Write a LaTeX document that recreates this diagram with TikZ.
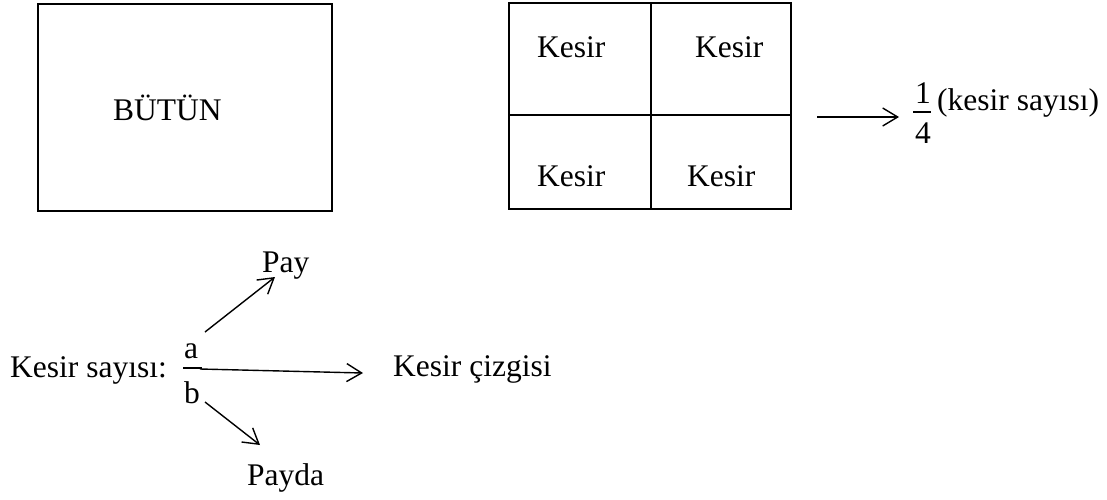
\documentclass[tikz,border=0pt]{standalone}
\usepackage{fontspec}
\setmainfont{Liberation Serif}
\usetikzlibrary{arrows.meta}
\begin{document}
\begin{tikzpicture}[x=1pt,y=-1pt,
  txt/.style={inner sep=0pt, anchor=base west, font=\fontsize{31.5}{37}\selectfont},
  box/.style={line width=1.8pt},
  fbar/.style={line width=1.3pt},
  arr/.style={line width=1.4pt, -{Straight Barb[length=15pt,width=18pt,line width=1.4pt]}}]
\useasboundingbox (0,0) rectangle (1107,499);
% whole
\draw[box] (38,4) rectangle (332,211);
\node[txt] (butun) at (113,120) {BÜTÜN};
% grid of quarters
\draw[box] (509,3) rectangle (791,209);
\draw[box] (651,3) -- (651,209);
\draw[box] (509,115) -- (791,115);
\node[txt] (k1) at (537,57) {Kesir};
\node[txt] (k2) at (695,57) {Kesir};
\node[txt] (k3) at (537,186) {Kesir};
\node[txt] (k4) at (687,186) {Kesir};
% 1/4
\coordinate (gs) at (817,117);
\coordinate (ge) at (899,117);
\draw[arr] (gs) -- (ge);
\node[txt] (one) at (915,103) {1};
\node[txt] (four) at (915,143) {4};
\draw[fbar] (913,112) -- (931,112);
\node[txt] (ks) at (937,110) {(kesir sayısı)};
% bottom
\node[txt] (ksay) at (10,377) {Kesir sayısı:};
\node[txt] (a) at (184,358) {a};
\node[txt] (b) at (184,403) {b};
\draw[fbar] (183,368) -- (202,368);
\node[txt] (cizgi) at (393,376) {Kesir çizgisi};
\node[txt] (pay) at (262,272) {Pay};
\node[txt] (payda) at (247,485) {Payda};
\coordinate (bs) at (200,369);
\coordinate (be) at (363,373);
\draw[arr] (bs) -- (be);
\coordinate (us) at (205,332);
\coordinate (ue) at (275,277);
\draw[arr] (us) -- (ue);
\coordinate (ls) at (205,402);
\coordinate (le) at (260,445);
\draw[arr] (ls) -- (le);
\end{tikzpicture}
\end{document}
